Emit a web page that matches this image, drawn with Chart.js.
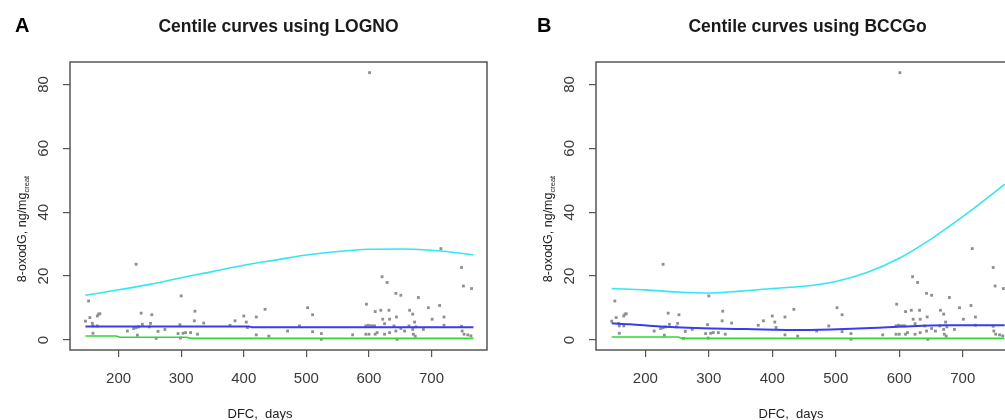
<!DOCTYPE html>
<html>
<head>
<meta charset="utf-8">
<script src="https://cdn.jsdelivr.net/npm/chart.js@4.4.1/dist/chart.umd.min.js"></script>
<style>
body{margin:0;background:#fff;}
#wrap{position:relative;width:1005px;height:420px;overflow:hidden;background:#fff;}
#chartA{position:absolute;left:0;top:0;}
#chartB{position:absolute;left:500px;top:0;}
</style>
</head>
<body>
<div id="wrap">
<canvas id="chartA" width="500" height="420"></canvas>
<canvas id="chartB" width="540" height="420"></canvas>
</div>
<script>
'use strict'

// observed samples: DFC (days) and 8-oxodG (ng/mg creat)
let dfcDays=[228,152,147,154,158,159,159,166,168,170,166,214,224,228,232,230,236,238,253,251,
249,260,263,274,300,298,295,299,303,307,315,326,322,321,336,378,386,400,404,406,
420,420,434,440,502,510,489,470,510,524,524,574,596,595,599,603,606,609,595,600,
610,613,610,619,621,629,622,625,632,633,625,633,643,651,644,640,643,645,651,657,
665,670,673,679,664,670,675,671,674,687,695,701,713,720,720,715,748,751,764,748,
749,752,758,763,601];
let oxodG=[23.7,12.2,5.9,7.0,5.2,4.4,2.1,7.5,8.1,8.2,4.4,2.8,3.6,3.8,4.1,1.5,8.4,4.9,7.9,5.2,
4.1,0.5,2.7,3.3,13.8,4.8,2.0,0.6,2.1,2.3,2.3,1.8,9.0,6.0,5.3,4.6,6.0,7.5,5.6,3.9,
7.2,1.6,9.6,1.2,10.1,7.9,4.4,2.8,2.6,2.0,0.2,1.6,11.2,4.4,4.6,4.4,4.4,4.4,1.8,1.8,
1.8,2.3,8.9,9.3,19.8,18.0,6.5,5.1,9.3,6.5,1.8,2.3,14.6,14.0,7.2,4.4,2.8,0.2,3.6,2.8,
9.3,8.1,5.6,13.3,4.4,3.3,4.1,1.8,1.2,3.3,10.1,6.5,10.8,7.2,4.6,28.6,22.7,16.9,16.1,4.3,
2.8,1.8,1.6,1.3,83.7];

let xTicks=[200,300,400,500,600,700];
let yTicks=[0,20,40,60,80];

// LOGNO centile curves
let lognoHiX=[147,200,250,300,350,400,450,500,550,600,650,700,750,767];
let lognoHi=[14.0,15.7,17.4,19.5,21.4,23.4,25.0,26.6,27.7,28.4,28.5,28.1,27.1,26.6];
let lognoMidX=[147,408,414,767];
let lognoMid=[4.25,4.25,3.95,3.95];
let lognoLoX=[147,196,202,308,316,767];
let lognoLo=[1.25,1.25,0.85,0.85,0.5,0.5];

// BCCGo centile curves
let bccgHiX=[147,200,250,300,350,400,450,500,550,600,650,700,750,766];
let bccgHi=[16.1,15.7,15.0,14.7,15.3,16.1,16.8,18.3,21.2,25.6,31.6,38.6,46.2,48.8];
let bccgMidX=[147,176,224,306,359,446,525,605,674,766];
let bccgMid=[5.2,4.9,4.2,3.6,3.4,3.1,3.5,4.2,4.6,4.6];
let bccgLoX=[147,252,258,766];
let bccgLo=[0.95,0.95,0.5,0.5];

let fam='"Liberation Sans", Arial, sans-serif';

function pairs(xs,ys){
    let out=[];
    for(let i=0;i<xs.length;i++){
        out.push({x:xs[i],y:ys[i]});
    }
    return out;
}

// R style axis range: data range +- 4%
let xLo=Math.min(...dfcDays), xHi=Math.max(...dfcDays);
let yLo=Math.min(...oxodG), yHi=Math.max(...oxodG);
let xMin=xLo-0.04*(xHi-xLo), xMax=xHi+0.04*(xHi-xLo);
let yMin=yLo-0.04*(yHi-yLo), yMax=yHi+0.04*(yHi-yLo);

// box, panel letter, titles (y title has a subscript)
let panelText={
    id:'panelText',
    afterDraw(chart,args,opts){
        let ctx=chart.ctx;
        let a=chart.chartArea;
        ctx.save();
        ctx.strokeStyle='#555';
        ctx.lineWidth=1.5;
        ctx.strokeRect(a.left,a.top,a.right-a.left,a.bottom-a.top);

        ctx.fillStyle='#000';
        ctx.textBaseline='alphabetic';
        ctx.textAlign='left';
        ctx.font='bold 20px '+fam;
        ctx.fillText(opts.letter,opts.letterX,32);

        ctx.fillStyle='#1a1a1a';
        ctx.textAlign='center';
        ctx.font='bold 17.5px '+fam;
        ctx.fillText(opts.title,(a.left+a.right)/2,32);

        ctx.fillStyle='#222';
        ctx.font='13px '+fam;
        ctx.fillText('DFC,  days',opts.xTitleX,418);

        ctx.translate(opts.yTitleX,229);
        ctx.rotate(-Math.PI/2);
        ctx.textAlign='left';
        ctx.font='12.5px '+fam;
        let main='8-oxodG, ng/mg';
        let wMain=ctx.measureText(main).width;
        ctx.font='7.5px '+fam;
        let wSub=ctx.measureText('creat').width;
        let x0=-(wMain+wSub)/2;
        ctx.font='12.5px '+fam;
        ctx.fillText(main,x0,0);
        ctx.font='7.5px '+fam;
        ctx.fillText('creat',x0+wMain,3);
        ctx.restore();
    }
};

function makeChart(id,yWidth,padRight,hiX,hi,midX,mid,loX,lo,textOpts){
    let ctx=document.getElementById(id).getContext('2d');
    return new Chart(ctx,{
        type:'scatter',
        data:{
            datasets:[
                {data:pairs(hiX,hi),showLine:true,borderColor:'#33e6f2',borderWidth:1.6,pointRadius:0,cubicInterpolationMode:'monotone',order:0},
                {data:pairs(midX,mid),showLine:true,borderColor:'#3b3bf2',borderWidth:2,pointRadius:0,cubicInterpolationMode:'monotone',order:1},
                {data:pairs(loX,lo),showLine:true,borderColor:'#30d930',borderWidth:1.6,pointRadius:0,order:2},
                {data:pairs(dfcDays,oxodG),pointStyle:'rect',pointRadius:2,backgroundColor:'#8f8f8f',borderWidth:0,order:5}
            ]
        },
        options:{
            responsive:false,
            animation:false,
            events:[],
            layout:{padding:{left:0,right:padRight,top:62,bottom:0}},
            plugins:{
                legend:{display:false},
                tooltip:{enabled:false},
                panelText:textOpts
            },
            scales:{
                x:{
                    type:'linear',min:xMin,max:xMax,
                    afterBuildTicks:function(s){s.ticks=xTicks.map(v=>({value:v}));},
                    afterFit:function(s){s.height=70;},
                    border:{display:false},
                    grid:{drawOnChartArea:false,drawTicks:true,tickLength:7,color:'#555',lineWidth:1.2},
                    ticks:{color:'#3a3a3a',font:{family:fam,size:15},padding:13,maxRotation:0,autoSkip:false}
                },
                y:{
                    type:'linear',min:yMin,max:yMax,
                    afterBuildTicks:function(s){s.ticks=yTicks.map(v=>({value:v}));},
                    afterFit:function(s){s.width=yWidth;},
                    border:{display:false},
                    grid:{drawOnChartArea:false,drawTicks:true,tickLength:7,color:'#555',lineWidth:1.2},
                    ticks:{color:'#3a3a3a',font:{family:fam,size:15},padding:11,minRotation:90,maxRotation:90,crossAlign:'center',autoSkip:false}
                }
            }
        },
        plugins:[panelText]
    });
}

makeChart('chartA',70,13,lognoHiX,lognoHi,lognoMidX,lognoMid,lognoLoX,lognoLo,
    {letter:'A',letterX:15,title:'Centile curves using LOGNO',xTitleX:260,yTitleX:26});
makeChart('chartB',96,21,bccgHiX,bccgHi,bccgMidX,bccgMid,bccgLoX,bccgLo,
    {letter:'B',letterX:37,title:'Centile curves using BCCGo',xTitleX:291,yTitleX:52});
</script>
</body>
</html>
